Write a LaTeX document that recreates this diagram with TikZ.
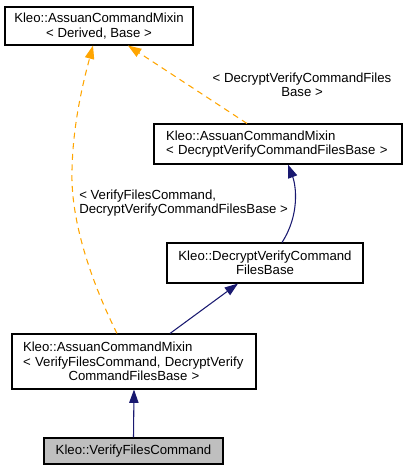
\documentclass[tikz,border=0pt]{standalone}
\usepackage{fontspec}
\setmainfont{Liberation Sans}
\usetikzlibrary{arrows.meta,calc}
\definecolor{midnightblue}{RGB}{25,25,112}
\definecolor{tplorange}{RGB}{255,165,0}
\definecolor{grey75}{RGB}{191,191,191}

\begin{document}
\begin{tikzpicture}[x=0.75pt,y=-0.75pt,
    cls/.style={draw=black, fill=white, line width=0.8pt, inner sep=0pt, align=center, font=\fontsize{9.9}{10.9}\selectfont},
    inh/.style={draw=midnightblue, line width=0.8pt, -{Triangle[length=10pt,width=7pt]}},
    tpl/.style={draw=tplorange, line width=0.8pt, dash pattern=on 4.5pt off 3.5pt, -{Triangle[length=10pt,width=7pt]}},
    lbl/.style={inner sep=0pt, font=\fontsize{9.9}{10.9}\selectfont}]
    \useasboundingbox (0,0) rectangle (404,471);

    % Classes
    \node[cls, minimum width=141pt, minimum height=28.5pt] (mixin) at (99,26) {Kleo::AssuanCommandMixin\\< Derived, Base >};
    \node[cls, align=left, inner xsep=9pt, text width=168pt, minimum height=30pt] (mixindv) at (278,144) {Kleo::AssuanCommandMixin\\< DecryptVerifyCommandFilesBase >};
    \node[cls, minimum width=147pt, minimum height=30pt] (dvbase) at (265,263) {Kleo::DecryptVerifyCommand\\FilesBase};
    \node[cls, align=left, inner xsep=8.25pt, text width=166.5pt, minimum height=41.25pt] (mixinvf) at (134,361.5) {Kleo::AssuanCommandMixin\\< VerifyFilesCommand, DecryptVerify\\\makebox[\linewidth]{CommandFilesBase >}};
    \node[cls, fill=grey75, minimum width=134.25pt, minimum height=19.5pt] (verify) at (133.5,451) {Kleo::VerifyFilesCommand};

    % Template labels
    \node[lbl, align=center] (lbldv) at (302,85) {< DecryptVerifyCommandFiles\\Base >};
    \node[lbl, align=left, anchor=west] (lblvf) at (79,203) {< VerifyFilesCommand,\\DecryptVerifyCommandFilesBase >};

    % Inheritance
    \draw[inh] (verify.north) -- (mixinvf.south);
    \draw[inh] ($(mixinvf.north)+(36,0)$) -- ($(dvbase.south)+(-27,0)$);
    \draw[inh] ($(dvbase.north)+(17,0)$) .. controls +(18,-28) and +(8,21) .. ($(mixindv.south)+(10,0)$);

    % Template instances
    \coordinate (bend) at (72,170);
    \draw[tpl] ($(mixindv.north)+(-31,0)$) -- ($(mixin.south)+(29,0)$);
    \draw[tpl] ($(mixinvf.north)+(-17,0)$) .. controls +(-17,-34) and +(-2,60) .. (bend) .. controls +(1,-50) and +(-8,30) .. ($(mixin.south)+(-6,0)$);
\end{tikzpicture}
\end{document}
